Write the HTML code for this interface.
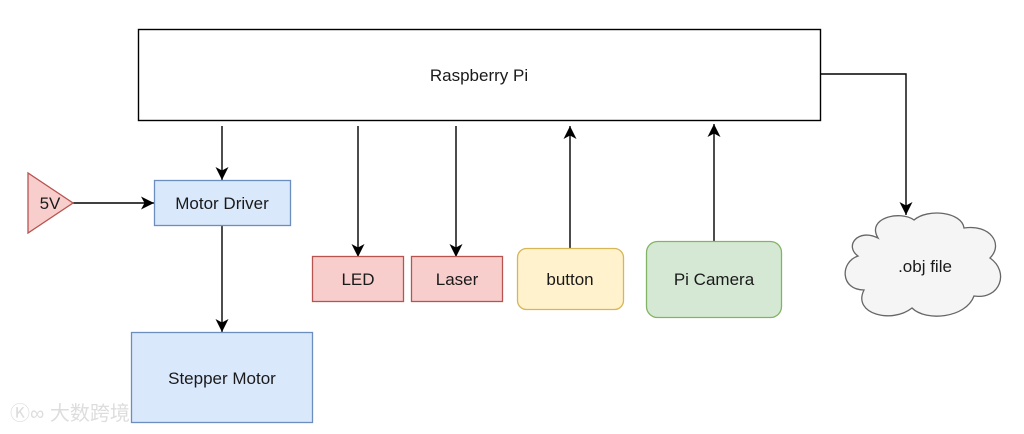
<!DOCTYPE html>
<html><head><meta charset="utf-8"><style>
html,body{margin:0;padding:0;background:#fff;}
svg{display:block;}
text{font-family:"Liberation Sans",sans-serif;font-size:17px;fill:#1a1a1a;}
</style></head><body>
<svg width="1024" height="434" viewBox="0 0 1024 434" xmlns="http://www.w3.org/2000/svg">
<defs>
<marker id="a" markerWidth="14" markerHeight="14" refX="13" refY="6.5" orient="auto" markerUnits="userSpaceOnUse">
<path d="M0,0 L13,6.5 L0,13 L3.5,6.5 Z" fill="#000"/>
</marker>
</defs>
<rect x="138.5" y="29.5" width="682" height="91" fill="#fff" stroke="#000" stroke-width="1.4"/>
<text x="479" y="81" text-anchor="middle">Raspberry Pi</text>

<g stroke="#000" stroke-width="1.4" fill="none">
<line x1="222" y1="126" x2="222" y2="180" marker-end="url(#a)"/>
<line x1="73" y1="203" x2="154" y2="203" marker-end="url(#a)"/>
<line x1="222" y1="226" x2="222" y2="332" marker-end="url(#a)"/>
<line x1="358" y1="126" x2="358" y2="257" marker-end="url(#a)"/>
<line x1="456" y1="126" x2="456" y2="257" marker-end="url(#a)"/>
<line x1="570" y1="248" x2="570" y2="126" marker-end="url(#a)"/>
<line x1="714" y1="241" x2="714" y2="124" marker-end="url(#a)"/>
<polyline points="820,74 906,74 906,215" marker-end="url(#a)"/>
</g>

<polygon points="28,173 28,233 73,203" fill="#f8cecc" stroke="#b85450" stroke-width="1.3"/>
<text x="50" y="209" text-anchor="middle">5V</text>

<rect x="154.5" y="180.5" width="136" height="45" fill="#dae8fc" stroke="#6c8ebf" stroke-width="1.3"/>
<text x="222" y="209" text-anchor="middle">Motor Driver</text>

<rect x="131.5" y="332.5" width="181" height="90" fill="#dae8fc" stroke="#6c8ebf" stroke-width="1.3"/>
<text x="222" y="384" text-anchor="middle">Stepper Motor</text>

<rect x="312.5" y="256.5" width="91" height="45" fill="#f8cecc" stroke="#b85450" stroke-width="1.3"/>
<text x="358" y="285" text-anchor="middle">LED</text>

<rect x="411.5" y="256.5" width="91" height="45" fill="#f8cecc" stroke="#b85450" stroke-width="1.3"/>
<text x="457" y="285" text-anchor="middle">Laser</text>

<rect x="517.5" y="248.5" width="106" height="61" rx="9" fill="#fff2cc" stroke="#d6b656" stroke-width="1.3"/>
<text x="570" y="285" text-anchor="middle">button</text>

<rect x="646.5" y="241.5" width="135" height="76" rx="11" fill="#d5e8d4" stroke="#82b366" stroke-width="1.3"/>
<text x="714" y="285" text-anchor="middle">Pi Camera</text>

<path d="M878,238 C866,218 900,210 914,220 C928,208 962,212 964,228 C990,224 1004,244 990,258 C1010,272 1000,300 974,296 C966,318 926,322 912,308 C892,324 852,314 864,290 C840,290 840,262 858,256 C844,246 858,228 878,238 Z" fill="#f5f5f5" stroke="#666" stroke-width="1.3"/>
<text x="925" y="272" text-anchor="middle">.obj file</text>

<text x="10" y="420" style="font-size:20px;fill:#ddd;font-family:'Liberation Sans','Noto Sans CJK SC',sans-serif;">Ⓚ∞ 大数跨境</text>
</svg>
</body></html>
